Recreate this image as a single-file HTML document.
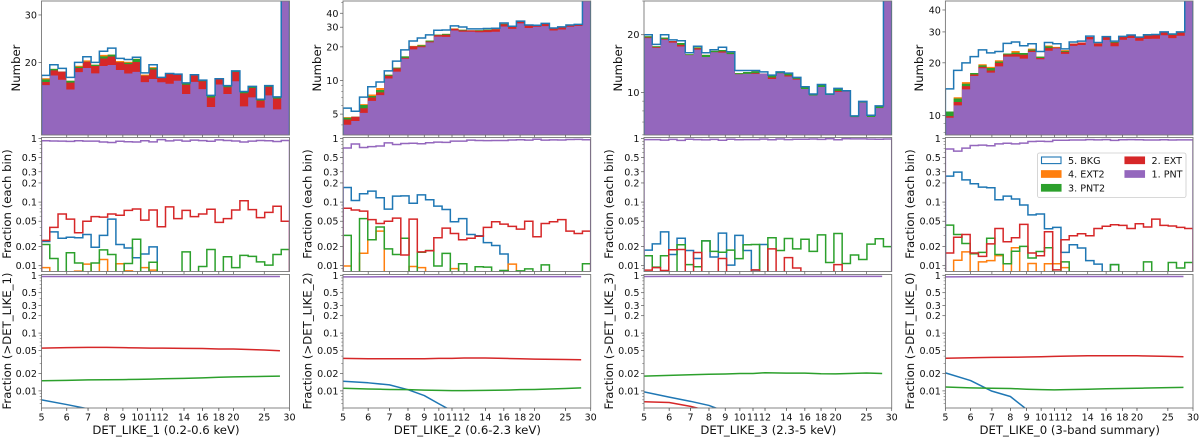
<!DOCTYPE html>
<html>
<head>
<meta charset="utf-8">
<title>DET_LIKE histograms</title>
<style>
html,body{margin:0;padding:0;background:#fff;width:1200px;height:438px;overflow:hidden}
svg{display:block;filter:blur(0.35px)}
text{font-family:"DejaVu Sans","Liberation Sans",sans-serif;fill:#111}
</style>
</head>
<body>
<svg id="figure" xmlns="http://www.w3.org/2000/svg" width="1200" height="438" viewBox="0 0 1200 438"></svg>
<script>
/* ---------- shared data ---------- */
const binCount = 30;
const xDomain = [5, 30];
const xTickLabels = [5, 6, 7, 8, 9, 10, 11, 12, 14, 16, 18, 20, 25, 30];
const fracTickLabels = [1, 0.5, 0.3, 0.2, 0.1, 0.05, 0.02, 0.01];
const cumThresholds = [5, 6, 7, 8, 9, 10, 11, 12, 14, 16, 18, 20, 25, 28];

/* ---------- DET_LIKE_1 ---------- */
const total1 = [17.9,19.6,19,17.6,20,21,20,22,22.6,20.7,20.5,20.9,18.3,19.6,17.6,18.2,18.1,16.8,18,17.2,15.1,17.4,16.4,18.6,15.6,16.3,14.6,16.4,14.9,200];
const bkg1 = [.024,.034,.027,.028,.0275,.031,.0195,.03,.054,.0215,.019,.0133,.0153,.0198,0,0,0,0,0,0,0,0,0,0,0,0,0,0,0,0];
const ext21 = [.0093,0,0,0,.0082,.0106,0,.0125,0,.0107,.0083,0,.0093,.0085,0,0,0,0,0,0,0,0,0,0,0,0,0,0,0,0];
const pnt21 = [.0215,.013,0,.016,.011,0,.011,.0177,.015,0,.0108,.026,0,.0113,0,0,0,.0165,0,.0097,.018,0,.0138,.0093,.0145,.014,.0115,.0102,.015,.018];
const ext1 = [.025,.04,.065,.054,.033,.05,.059,.058,.065,.062,.074,.078,.052,.075,.041,.084,.055,.074,.059,.065,.077,.048,.055,.075,.105,.076,.057,.069,.086,.05];
const cumPnt1 = [.955,.955,.955,.955,.955,.955,.955,.955,.955,.955,.955,.955,.955,.955];
const cumExt1 = [.055,.056,.0565,.0565,.056,.0555,.055,.055,.0545,.054,.053,.053,.051,.0495];
const cumPnt21 = [.015,.0152,.0155,.0156,.0157,.0158,.016,.0162,.0165,.0168,.0172,.0175,.0178,.018];
const cumBkg1 = [.007,.0058,.0049,.004,.0035,.003,.0026,.0023,.002,.0018,.0015,.0012,.001,.001];
const cumExt21 = [.003,.003,.003,.003,.002,.002,.002,.002,.002,.002,.002,.002,.002,.002];
const topTicks1 = [20, 30];
const topDomain1 = [10.76, 33.8];

/* ---------- DET_LIKE_2 ---------- */
const total2 = [5.66,5.3,7.1,8.8,9.7,12.2,14.9,18.8,22.6,24,25.6,28.2,28.3,30.8,30.1,29,29,29.2,29.4,32.7,30.6,34,31.4,31.2,32.5,29.5,30.2,31.4,31.8,200];
const bkg2 = [.17,.106,.135,.149,.117,.0775,.124,.125,.096,.13,.109,.0865,.0765,.049,.055,.031,.0295,.023,.0208,.0153,0,0,0,0,0,0,0,0,0,0];
const ext22 = [.0099,0,.0157,.0256,.035,0,0,0,.0097,.0093,0,0,0,.009,0,0,0,0,0,0,.0106,0,0,0,0,0,0,0,0,0];
const pnt22 = [.03,0,.055,.0256,.0405,.0184,.015,.027,0,.0163,.0173,.0099,.0156,0,.0107,0,.0096,.0095,0,.0084,0,.0083,.0089,0,.0103,0,0,0,0,.0107];
const ext2 = [.08,.075,.072,.053,.046,.05,.056,.0147,.054,.0165,.0172,.0275,.039,.032,.0256,.027,.029,.04,.049,.045,.0415,.0375,.05,.0285,.046,.049,.053,.035,.032,.035];
const cumPnt2 = [.94,.94,.945,.945,.95,.95,.95,.95,.95,.95,.95,.95,.95,.95];
const cumExt2 = [.0365,.036,.036,.036,.036,.0365,.0365,.037,.037,.0365,.036,.0355,.035,.0345];
const cumPnt22 = [.0111,.0108,.0106,.0105,.0103,.0102,.0101,.0101,.0102,.0103,.0105,.0106,.011,.0113];
const cumBkg2 = [.0147,.0138,.0127,.0105,.0083,.006,.0045,.0035,.003,.0025,.002,.0018,.0015,.001];
const cumExt22 = [.003,.003,.003,.003,.002,.002,.002,.002,.002,.002,.002,.002,.002,.002];
const topTicks2 = [5, 10, 20, 30, 40];
const topDomain2 = [3.25, 51.5];

/* ---------- DET_LIKE_3 ---------- */
const total3 = [20,17.8,20,18.8,18.6,16.1,17.4,16.1,16.7,17.2,16.3,13,13,13,12.8,12.3,12.8,12.6,11.98,10.7,9.8,11,9.8,10.5,10.2,7.54,8.97,7.6,8.5,200];
const bkg3 = [.0176,.022,.034,.015,.027,.0173,.013,.0245,.0137,.0325,.0102,.03,.0173,.0085,.0215,0,0,0,0,0,0,0,0,0,0,0,0,0,0,0];
const ext23 = [0,0,0,0,0,0,0,0,0,0,0,0,0,0,0,0,0,0,0,0,0,0,0,0,0,0,0,0,0,0];
const pnt23 = [.0143,.0095,.0143,0,.0213,.0104,.0096,.0245,.0168,.0163,.0176,.0129,.0213,.0215,0,.0275,.0173,.0268,.0184,.026,.0168,.0305,.0112,.032,.0108,.0147,.0125,.0218,.0265,.0199];
const ext3 = [.0085,.0093,.0084,.0178,.018,0,.0161,0,0,.013,0,0,0,.0086,0,.0184,0,.0134,.0092,0,0,0,0,.0104,0,0,0,0,0,0];
const cumPnt3 = [.955,.96,.96,.96,.96,.96,.96,.96,.96,.96,.96,.96,.96,.96];
const cumExt3 = [.0065,.0063,.0054,.0045,.004,.0035,.003,.003,.0025,.002,.002,.002,.002,.002];
const cumPnt23 = [.018,.0186,.019,.0194,.0196,.02,.02,.0206,.0203,.0203,.0198,.0197,.0204,.02];
const cumBkg3 = [.0096,.0078,.0066,.0056,.0044,.0035,.003,.0025,.002,.0018,.0015,.0012,.001,.001];
const cumExt23 = [.002,.002,.002,.002,.002,.002,.002,.002,.002,.002,.002,.002,.002,.002];
const topTicks3 = [10, 20];
const topDomain3 = [5.99, 30];

/* ---------- DET_LIKE_0 ---------- */
const total4 = [14.2,18.1,20,21.7,23.7,22.8,23.2,25.8,26.3,25,25.7,23.2,26.1,25.7,24,26.3,26.6,28.4,26.1,28.2,26.6,28.3,28.8,28,28.9,29,30,29.2,30,200];
const bkg4 = [.256,.296,.224,.194,.172,.168,.109,.124,.112,.09,.063,.065,.038,.04,.0162,.0213,.019,.012,.0106,0,.0104,0,0,0,0,0,0,0,0,0];
const ext24 = [0,.0122,.0165,0,.0115,.012,.0144,0,.0191,0,.0108,0,.0107,.0107,.0093,0,0,0,0,0,0,0,0,0,0,0,0,0,0,0];
const pnt24 = [.0435,.031,.0223,.0154,.0162,.027,.015,.0107,.0169,.0201,.0132,.0167,.0191,0,.0115,0,0,0,0,0,.0104,0,0,0,.0115,0,0,.0112,.0092,.0112];
const ext4 = [.0158,.028,.031,.0158,.014,.022,.0385,.0238,.0275,.0446,.0158,.0143,.0342,.0086,.0256,.0296,.0318,.0296,.0385,.0417,.044,.043,.0385,.0456,.0405,.054,.043,.042,.04,.0385];
const cumPnt4 = [.94,.945,.95,.95,.95,.955,.955,.955,.955,.955,.955,.955,.955,.955];
const cumExt4 = [.0368,.0375,.038,.0382,.0385,.039,.0395,.04,.0405,.0405,.0405,.0405,.0395,.039];
const cumPnt24 = [.0117,.0113,.0111,.011,.0107,.0105,.0104,.0105,.0107,.0109,.011,.0111,.0114,.0115];
const cumBkg4 = [.0205,.0151,.0099,.008,.0048,.0035,.003,.0025,.002,.0018,.0015,.0012,.001,.001];
const cumExt24 = [.002,.002,.002,.002,.002,.002,.002,.002,.002,.002,.002,.002,.002,.002];
const topTicks4 = [10, 20, 30, 40];
const topDomain4 = [7.76, 45];

/* ---------- panel wiring ---------- */
const panels = [
 {id:'det-like-1', title:'DET_LIKE_1 (0.2-0.6 keV)', cumTitle:'Fraction (>DET_LIKE_1)', x0:41.5, x1:289.5, yl1:16, yl2:7, total:total1, bkg:bkg1, ext2:ext21, pnt2:pnt21, ext:ext1, cum:[cumBkg1,cumExt21,cumPnt21,cumExt1,cumPnt1], ticks:topTicks1, dom:topDomain1},
 {id:'det-like-2', title:'DET_LIKE_2 (0.6-2.3 keV)', cumTitle:'Fraction (>DET_LIKE_2)', x0:343, x1:590.7, yl1:317, yl2:307.5, total:total2, bkg:bkg2, ext2:ext22, pnt2:pnt22, ext:ext2, cum:[cumBkg2,cumExt22,cumPnt22,cumExt2,cumPnt2], ticks:topTicks2, dom:topDomain2},
 {id:'det-like-3', title:'DET_LIKE_3 (2.3-5 keV)', cumTitle:'Fraction (>DET_LIKE_3)', x0:644, x1:891.7, yl1:618, yl2:609, total:total3, bkg:bkg3, ext2:ext23, pnt2:pnt23, ext:ext3, cum:[cumBkg3,cumExt23,cumPnt23,cumExt3,cumPnt3], ticks:topTicks3, dom:topDomain3},
 {id:'det-like-0', title:'DET_LIKE_0 (3-band summary)', cumTitle:'Fraction (>DET_LIKE_0)', x0:945.4, x1:1193, yl1:919, yl2:910, total:total4, bkg:bkg4, ext2:ext24, pnt2:pnt24, ext:ext4, cum:[cumBkg4,cumExt24,cumPnt24,cumExt4,cumPnt4], ticks:topTicks4, dom:topDomain4}
];

const colBkg = '#1f77b4', colExt2 = '#ff7f0e', colPnt2 = '#2ca02c', colExt = '#d62728', colPnt = '#9467bd';
const rowTop = {y0:1, y1:135};
const rowMid = {y0:137.5, y1:271.5, dom:[0.0081, 1.037]};
const rowCum = {y0:274.5, y1:408, dom:[0.00506, 1.032]};
const FS = 9.6, FSL = 11.7, SPINE = '#777', TICK = '#555', LW = 1.5;

const svg = document.getElementById('figure');
const NS = 'http://www.w3.org/2000/svg';
function mk(tag, parent, attrs) {
  const e = document.createElementNS(NS, tag);
  for (const k in attrs) e.setAttribute(k, attrs[k]);
  parent.appendChild(e);
  return e;
}
const defs = mk('defs', svg, {});
function logScale(dom, r0, r1) {
  const a = Math.log10(dom[0]), b = Math.log10(dom[1]);
  return v => v <= 0 ? r0 : r0 + (Math.log10(v) - a) / (b - a) * (r1 - r0);
}
function clampY(yf, bottom) { return v => v <= 0 ? bottom + 3 : Math.min(yf(v), bottom + 3); }

function stepPath(xs, vals, y, bottom) {
  let d = 'M' + xs[0].toFixed(2) + ' ' + (bottom + 3);
  vals.forEach((v, i) => {
    const yy = y(v).toFixed(2);
    d += 'L' + xs[i].toFixed(2) + ' ' + yy + 'L' + xs[i + 1].toFixed(2) + ' ' + yy;
  });
  d += 'L' + xs[binCount].toFixed(2) + ' ' + (bottom + 3);
  return d;
}

function yTicks(g, p, yf, majors, dom, labelFn, prefix) {
  const a = Math.floor(Math.log10(dom[0])), b = Math.ceil(Math.log10(dom[1]));
  for (let k = a; k <= b; k++) for (let m = 1; m < 10; m++) {
    const v = m * Math.pow(10, k);
    if (v < dom[0] || v > dom[1]) continue;
    if (majors.some(t => Math.abs(t - v) / v < 1e-6)) continue;
    const yy = yf(v);
    const t = mk('line', g, {x1:p.x0 - 1.8, x2:p.x0, y1:yy, y2:yy, stroke:TICK, 'stroke-width':0.5});
    
    
  }
  majors.forEach(v => {
    const yy = yf(v);
    const t = mk('line', g, {x1:p.x0 - 3, x2:p.x0, y1:yy, y2:yy, stroke:TICK, 'stroke-width':0.7});
    
    
    const lb = mk('text', g, {x:p.x0 - 4.5, y:yy + 3.5, 'text-anchor':'end', 'font-size':FS});
    lb.textContent = labelFn(v);
    
    
  });
}

function frame(g, p, y0, y1, name) {
  const r = mk('rect', g, {x:p.x0, y:y0, width:p.x1 - p.x0, height:y1 - y0, fill:'none', stroke:SPINE, 'stroke-width':0.9});
  
  
}

function xTicks(g, p, xf, y, labelled) {
  xTickLabels.slice(1, -1).forEach(v => {
    const t = mk('line', g, {x1:xf(v), x2:xf(v), y1:y, y2:y + 2.5, stroke:TICK, 'stroke-width':0.7});
    
    
  });
  if (!labelled) return;
  xTickLabels.forEach(v => {
    const t = mk('line', g, {x1:xf(v), x2:xf(v), y1:y, y2:y + 3, stroke:TICK, 'stroke-width':0.7});
    
    
    const lb = mk('text', g, {x:xf(v), y:y + 12.6, 'text-anchor':'middle', 'font-size':FS});
    lb.textContent = String(v);
    
    
  });
}

function rotLabel(g, txt, x, y, name) {
  const t = mk('text', g, {x:x, y:y, 'text-anchor':'middle', 'font-size':FSL, transform:'rotate(-90 ' + x + ' ' + y + ')', 'dominant-baseline':'central'});
  t.textContent = txt;
  
  
}

panels.forEach((p, pi) => {
  const panel = mk('g', svg, {});
  
  

  const lx0 = Math.log10(xDomain[0]), lx1 = Math.log10(xDomain[1]);
  const xf = v => p.x0 + (Math.log10(v) - lx0) / (lx1 - lx0) * (p.x1 - p.x0);
  const edges = [];
  for (let i = 0; i <= binCount; i++) edges.push(p.x0 + i / binCount * (p.x1 - p.x0));
  const pnt = p.total.map((_, i) => Math.max(0, 1 - p.bkg[i] - p.ext2[i] - p.pnt2[i] - p.ext[i]));

  function clip(y0, y1, key) {
    const c = mk('clipPath', defs, {id:'clip-' + pi + key});
    mk('rect', c, {x:p.x0, y:y0, width:p.x1 - p.x0, height:y1 - y0});
    return 'url(#clip-' + pi + key + ')';
  }

  /* top: stacked histogram */
  const gTop = mk('g', panel, {'clip-path':clip(rowTop.y0, rowTop.y1, 'a')});
  const yTop = clampY(logScale(p.dom, rowTop.y1, rowTop.y0), rowTop.y1);
  const stackPnt = p.total.map((t, i) => t * pnt[i]);
  const stackExt = p.total.map((t, i) => t * (pnt[i] + p.ext[i]));
  const stackPnt2 = p.total.map((t, i) => t * (pnt[i] + p.ext[i] + p.pnt2[i]));
  const stackExt2 = p.total.map((t, i) => t * (pnt[i] + p.ext[i] + p.pnt2[i] + p.ext2[i]));

  const fillOrange = mk('path', gTop, {d:stepPath(edges, stackExt2, yTop, rowTop.y1), fill:colExt2});
  
  
  const fillGreen = mk('path', gTop, {d:stepPath(edges, stackPnt2, yTop, rowTop.y1), fill:colPnt2});
  
  
  const fillRed = mk('path', gTop, {d:stepPath(edges, stackExt, yTop, rowTop.y1), fill:colExt});
  
  
  const fillPurple = mk('path', gTop, {d:stepPath(edges, stackPnt, yTop, rowTop.y1), fill:colPnt});
  
  
  const lineBlue = mk('path', gTop, {d:stepPath(edges, p.total, yTop, rowTop.y1), fill:'none', stroke:colBkg, 'stroke-width':LW});
  
  

  const axTop = mk('g', panel, {});
  
  
  frame(axTop, p, rowTop.y0, rowTop.y1, 'number');
  yTicks(axTop, p, logScale(p.dom, rowTop.y1, rowTop.y0), p.ticks, p.dom, v => String(v), 'number-y');
  xTicks(axTop, p, xf, rowTop.y1, false);
  rotLabel(axTop, 'Number', p.yl1, 68, 'number-y-axis-title');

  /* middle: per-bin fractions */
  const gMid = mk('g', panel, {'clip-path':clip(rowMid.y0, rowMid.y1, 'b')});
  const yMidRaw = logScale(rowMid.dom, rowMid.y1, rowMid.y0);
  const yMid = clampY(yMidRaw, rowMid.y1);
  [[p.bkg, colBkg, 'bkg'], [p.ext2, colExt2, 'ext2'], [p.pnt2, colPnt2, 'pnt2'], [p.ext, colExt, 'ext'], [pnt, colPnt, 'pnt']].forEach(s => {
    const l = mk('path', gMid, {d:stepPath(edges, s[0], yMid, rowMid.y1), fill:'none', stroke:s[1], 'stroke-width':LW});
    
    
  });
  const axMid = mk('g', panel, {});
  
  
  frame(axMid, p, rowMid.y0, rowMid.y1, 'fraction');
  yTicks(axMid, p, yMidRaw, fracTickLabels, rowMid.dom, v => String(v), 'fraction-y');
  xTicks(axMid, p, xf, rowMid.y1, false);
  rotLabel(axMid, 'Fraction (each bin)', p.yl2, 204, 'fraction-y-axis-title');

  /* bottom: cumulative fractions */
  const gCum = mk('g', panel, {'clip-path':clip(rowCum.y0, rowCum.y1, 'c')});
  const yCum = logScale(rowCum.dom, rowCum.y1, rowCum.y0);
  const cumNames = ['bkg', 'ext2', 'pnt2', 'ext', 'pnt'];
  const cumColors = [colBkg, colExt2, colPnt2, colExt, colPnt];
  p.cum.forEach((vals, si) => {
    const d = vals.map((v, i) => (i ? 'L' : 'M') + xf(cumThresholds[i]).toFixed(2) + ' ' + yCum(v).toFixed(2)).join('');
    const l = mk('path', gCum, {d:d, fill:'none', stroke:cumColors[si], 'stroke-width':LW, 'stroke-linejoin':'round'});
    
    
  });
  const axCum = mk('g', panel, {});
  
  
  frame(axCum, p, rowCum.y0, rowCum.y1, 'cumulative');
  yTicks(axCum, p, yCum, fracTickLabels, rowCum.dom, v => String(v), 'cumulative-y');
  xTicks(axCum, p, xf, rowCum.y1, true);
  rotLabel(axCum, p.cumTitle, p.yl2, 341, 'cumulative-y-axis-title');
  const xt = mk('text', axCum, {x:(p.x0 + p.x1) / 2 + 0.5, y:434, 'text-anchor':'middle', 'font-size':FSL});
  xt.textContent = p.title;
  
  
});

/* legend */
const legend = mk('g', svg, {});


const legendBox = mk('rect', legend, {x:1037.5, y:153, width:148.5, height:44.5, rx:2, fill:'#fff', 'fill-opacity':0.85, stroke:'#ccc', 'stroke-width':0.8});


const legendLabels = ['5. BKG', '4. EXT2', '3. PNT2', '2. EXT', '1. PNT'];
const legendColors = [colBkg, colExt2, colPnt2, colExt, colPnt];
const legendSlots = [[1041.5,157],[1041.5,170.7],[1041.5,184.5],[1125,157],[1125,170.7]];
legendLabels.forEach((txt, i) => {
  const s = legendSlots[i];
  const swatch = mk('rect', legend, {x:s[0], y:s[1], width:19.5, height:6.6, fill:i === 0 ? '#fff' : legendColors[i], stroke:legendColors[i], 'stroke-width':1.1});
  
  
  const t = mk('text', legend, {x:s[0] + 26.5, y:s[1] + 6.8, 'font-size':FS});
  t.textContent = txt;
  
  
});
</script>
</body>
</html>
